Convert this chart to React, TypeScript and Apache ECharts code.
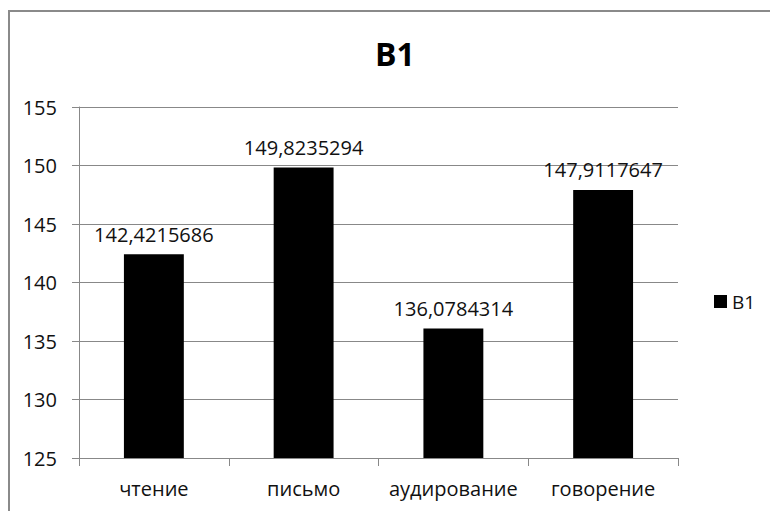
import React, { useEffect, useRef } from "react";
import * as echarts from "echarts";

const categories = ["чтение", "письмо", "аудирование", "говорение"];
const seriesName = "B1";
const values = [142.4215686, 149.8235294, 136.0784314, 147.9117647];
const yMin = 125;
const yMax = 155;
const yInterval = 5;

const FONT = "'Open Sans', 'Noto Sans', sans-serif";

export default function App() {
  const ref = useRef<HTMLDivElement>(null);
  useEffect(() => {
    if (!ref.current) return;
    document.body.style.margin = "0";
    document.documentElement.style.overflow = "hidden";
    const chart = echarts.init(ref.current, undefined, { renderer: "svg" });
    chart.setOption({
      animation: false,
      backgroundColor: "#ffffff",
      textStyle: { fontFamily: FONT },
      title: {
        text: seriesName,
        left: 370,
        top: 32,
        textStyle: { fontFamily: FONT, fontSize: 32, fontWeight: "bold", color: "#000" },
      },
      legend: {
        left: 709,
        top: 287,
        orient: "vertical",
        icon: "rect",
        itemWidth: 13,
        itemHeight: 13,
        itemGap: 7,
        textStyle: { fontFamily: FONT, fontSize: 19, color: "#111" },
        data: [seriesName],
      },
      grid: { left: 79, right: 92, top: 107, bottom: 53, containLabel: false },
      xAxis: {
        type: "category",
        data: categories,
        axisLine: { show: true, lineStyle: { color: "#888", width: 1 } },
        axisTick: { show: true, length: 8, alignWithLabel: false, lineStyle: { color: "#888" } },
        axisLabel: { interval: 0, margin: 20, fontFamily: FONT, fontSize: 20, color: "#111" },
        splitLine: { show: false },
      },
      yAxis: {
        type: "value",
        min: yMin,
        max: yMax,
        interval: yInterval,
        axisLine: { show: true, lineStyle: { color: "#888", width: 1 } },
        axisTick: { show: true, length: 7, lineStyle: { color: "#888" } },
        axisLabel: { margin: 22, fontFamily: FONT, fontSize: 20, color: "#111" },
        splitLine: { show: true, lineStyle: { color: "#888", width: 1 } },
      },
      series: [
        {
          name: seriesName,
          type: "bar",
          data: values,
          barWidth: "40%",
          itemStyle: { color: "#000" },
          label: {
            show: true,
            position: "top",
            distance: 10,
            fontFamily: FONT,
            fontSize: 20,
            color: "#111",
            formatter: (p: any) => String(p.value).replace(".", ","),
          },
        },
      ],
      graphic: [
        {
          type: "line",
          shape: { x1: 9, y1: 11, x2: 9, y2: 511 },
          style: { stroke: "#8a8a8a", lineWidth: 2 },
          silent: true,
        },
        {
          type: "line",
          shape: { x1: 8, y1: 11, x2: 770, y2: 11 },
          style: { stroke: "#8a8a8a", lineWidth: 2 },
          silent: true,
        },
      ],
    });
    return () => chart.dispose();
  }, []);
  return <div ref={ref} style={{ width: 770, height: 511 }} />;
}
